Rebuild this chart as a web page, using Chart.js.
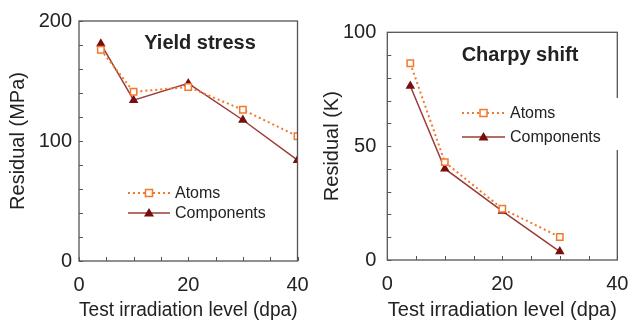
<!DOCTYPE html>
<html>
<head>
<meta charset="utf-8">
<script src="https://cdn.jsdelivr.net/npm/chart.js@4.4.0/dist/chart.umd.min.js"></script>
<style>
  html, body { margin: 0; padding: 0; background: #fff; }
  .wrap { display: flex; width: 628px; height: 321px; }
  .panel { position: relative; width: 314px; height: 321px; }
</style>
</head>
<body>
<div class="wrap">
  <div class="panel"><canvas id="yieldChart"></canvas></div>
  <div class="panel"><canvas id="charpyChart"></canvas></div>
</div>
<script>
// Dose levels (dpa)
const yieldDose = [4, 10, 20, 30, 40];
const yieldAtoms = [176, 141, 145, 126, 104];
const yieldComponents = [181, 134, 148, 117.5, 84];

const charpyDose = [4, 10, 20, 30];
const charpyAtoms = [86.4, 43, 22.5, 10.1];
const charpyComponents = [76.4, 40.1, 21.5, 3.7];

const xTickLabels = [0, 20, 40];
const yieldTickLabels = [0, 100, 200];
const charpyTickLabels = [0, 50, 100];

const seriesNames = ['Atoms', 'Components'];
const xTitle = 'Test irradiation level (dpa)';

const ORANGE = '#f2782c';
const BROWN = '#9c3c36';
const DARKRED = '#7a0d0d';
const AXIS = '#555';
const TEXT = '#222';
const FONT = "'Liberation Sans', Arial, Helvetica, sans-serif";

// draws box, inward minor ticks, title and legend inside the plot
const panelDecor = {
    id: 'panelDecor',
    afterDraw(chart, args, o) {
        const ctx = chart.ctx;
        const a = chart.chartArea;
        const xs = chart.scales.x, ys = chart.scales.y;
        ctx.save();
        ctx.strokeStyle = AXIS;
        ctx.lineWidth = 1.3;
        ctx.strokeRect(a.left, a.top, a.right - a.left, a.bottom - a.top);

        ctx.lineWidth = 1;
        for (let v = xs.min; v <= xs.max; v += o.xMinor) {
            const px = Math.round(xs.getPixelForValue(v)) + 0.5;
            ctx.beginPath();
            ctx.moveTo(px, a.bottom);
            ctx.lineTo(px, a.bottom - 4);
            ctx.stroke();
        }
        for (let v = ys.min; v <= ys.max; v += o.yMinor) {
            const py = Math.round(ys.getPixelForValue(v)) + 0.5;
            ctx.beginPath();
            ctx.moveTo(a.left, py);
            ctx.lineTo(a.left + 4, py);
            ctx.stroke();
        }

        if (o.gap) {
            ctx.fillStyle = '#fff';
            ctx.fillRect(a.right - 2, o.gap[0], 5, o.gap[1] - o.gap[0]);
        }

        // panel title
        ctx.fillStyle = TEXT;
        ctx.font = 'bold 20px ' + FONT;
        ctx.textAlign = 'center';
        ctx.textBaseline = 'middle';
        ctx.fillText(o.title, o.titleX, o.titleY);

        // legend
        const L = o.legend;
        ctx.font = '16px ' + FONT;
        ctx.textAlign = 'left';
        const mid = (L.x0 + L.x1) / 2;
        // Atoms
        ctx.strokeStyle = ORANGE;
        ctx.lineWidth = 2;
        ctx.setLineDash([2, 3]);
        ctx.beginPath();
        ctx.moveTo(L.x0, L.y0);
        ctx.lineTo(L.x1, L.y0);
        ctx.stroke();
        ctx.setLineDash([]);
        ctx.fillStyle = '#fff';
        ctx.fillRect(mid - 3.5, L.y0 - 3.5, 7, 7);
        ctx.lineWidth = 1.5;
        ctx.strokeRect(mid - 3.5, L.y0 - 3.5, 7, 7);
        ctx.fillStyle = TEXT;
        ctx.fillText(seriesNames[0], L.tx, L.y0 + 1);
        // Components
        ctx.strokeStyle = BROWN;
        ctx.lineWidth = 1.5;
        ctx.beginPath();
        ctx.moveTo(L.x0, L.y1);
        ctx.lineTo(L.x1, L.y1);
        ctx.stroke();
        ctx.fillStyle = DARKRED;
        ctx.beginPath();
        ctx.moveTo(mid, L.y1 - 5);
        ctx.lineTo(mid + 5, L.y1 + 3.5);
        ctx.lineTo(mid - 5, L.y1 + 3.5);
        ctx.closePath();
        ctx.fill();
        ctx.fillStyle = TEXT;
        ctx.fillText(seriesNames[1], L.tx, L.y1 + 1);
        ctx.restore();
    }
};

function makePanel(id, dose, atoms, comps, yMax, yTicks, yTitle, box, deco) {
    const toPts = (xs, ys) => xs.map((x, i) => ({ x: x, y: ys[i] }));
    return new Chart(document.getElementById(id), {
        type: 'line',
        data: {
            datasets: [
                {
                    label: seriesNames[0],
                    data: toPts(dose, atoms),
                    borderColor: ORANGE,
                    borderWidth: 2,
                    borderDash: [2, 3],
                    pointStyle: 'rect',
                    pointRadius: 4.5,
                    pointBackgroundColor: '#fff',
                    pointBorderColor: ORANGE,
                    pointBorderWidth: 1.5,
                    tension: 0
                },
                {
                    label: seriesNames[1],
                    data: toPts(dose, comps),
                    borderColor: BROWN,
                    borderWidth: 1.5,
                    pointStyle: 'triangle',
                    pointRadius: 5.5,
                    pointBackgroundColor: DARKRED,
                    pointBorderColor: DARKRED,
                    pointBorderWidth: 0,
                    tension: 0
                }
            ]
        },
        options: {
            responsive: false,
            animation: false,
            devicePixelRatio: 1,
            layout: { padding: { left: 0, right: box.padRight, top: box.top, bottom: 0 } },
            plugins: {
                legend: { display: false },
                tooltip: { enabled: false },
                panelDecor: deco
            },
            scales: {
                x: {
                    type: 'linear',
                    min: 0,
                    max: 40,
                    afterFit: s => { s.height = box.xHeight; s.paddingLeft = 0; s.paddingRight = 0; },
                    afterBuildTicks: s => { s.ticks = xTickLabels.map(v => ({ value: v })); },
                    grid: { display: false, drawTicks: false },
                    border: { display: false },
                    ticks: { color: TEXT, font: { family: FONT, size: 20 }, padding: 12, maxRotation: 0 },
                    title: {
                        display: true, text: xTitle, color: TEXT,
                        font: { family: FONT, size: 20, lineHeight: 1.1 },
                        padding: { top: 0, bottom: 0 }
                    }
                },
                y: {
                    type: 'linear',
                    min: 0,
                    max: yMax,
                    afterFit: s => { s.width = box.yWidth; s.paddingTop = 0; s.paddingBottom = 0; },
                    afterBuildTicks: s => { s.ticks = yTicks.map(v => ({ value: v })); },
                    grid: { display: false, drawTicks: false },
                    border: { display: false },
                    ticks: { color: TEXT, font: { family: FONT, size: 20 }, padding: box.yPad },
                    title: {
                        display: true, text: yTitle, color: TEXT,
                        font: { family: FONT, size: 20, lineHeight: 1.2 },
                        padding: { top: 6, bottom: 0 }
                    }
                }
            }
        },
        plugins: [panelDecor]
    });
}

function sizeCanvas(id) {
    const c = document.getElementById(id);
    c.width = 314; c.height = 321;
    c.style.width = '314px'; c.style.height = '321px';
}
sizeCanvas('yieldChart');
sizeCanvas('charpyChart');

makePanel('yieldChart', yieldDose, yieldAtoms, yieldComponents, 200, yieldTickLabels,
    'Residual (MPa)',
    { padRight: 16.5, top: 21, xHeight: 60, yWidth: 79, yPad: 7 },
    { xMinor: 5, yMinor: 20, title: 'Yield stress', titleX: 200, titleY: 43,
      legend: { x0: 128, x1: 170, tx: 175, y0: 193, y1: 213 } });

makePanel('charpyChart', charpyDose, charpyAtoms, charpyComponents, 100, charpyTickLabels,
    'Residual (K)',
    { padRight: 10.7, top: 32.3, xHeight: 61, yWidth: 73.3, yPad: 11 },
    { xMinor: 5, yMinor: 10, title: 'Charpy shift', titleX: 206, titleY: 55, gap: [98, 150],
      legend: { x0: 148, x1: 191, tx: 196, y0: 113, y1: 137 } });
</script>
</body>
</html>
